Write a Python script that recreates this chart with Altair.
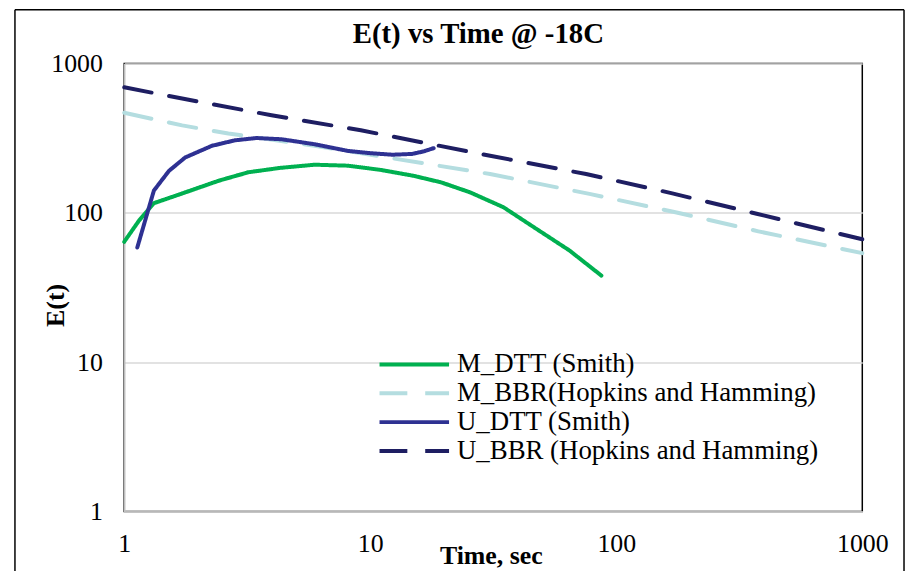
import altair as alt
import pandas as pd

series_names = [
    "M_DTT (Smith)",
    "M_BBR(Hopkins and Hamming)",
    "U_DTT (Smith)",
    "U_BBR (Hopkins and Hamming)",
]
series_colors = ["#00B050", "#B4DDE0", "#2E3192", "#1E1E62"]
series_dash = [[1, 0], [28, 18], [1, 0], [28, 18]]
series_width = [4, 4, 3, 4]

m_dtt_t = [1.0, 1.15, 1.32, 1.77, 2.42, 3.2, 4.3, 5.94, 8.09, 11.0, 15.0, 19.4, 25.5, 34.8, 47.4, 64.5, 87.0]
m_dtt_e = [64, 89, 116, 137, 164, 187, 200, 210, 207, 194, 177, 160, 137, 109, 78, 56, 38]

m_bbr_t = [1.0, 1.72, 2.65, 5.94, 12.9, 30.7, 77.8, 174, 378, 1000]
m_bbr_e = [468, 385, 340, 281, 229, 182, 134, 101, 75.2, 53.7]

u_dtt_t = [1.13, 1.32, 1.52, 1.77, 2.27, 2.82, 3.45, 4.36, 5.94, 8.09, 10.0, 12.3, 14.8, 16.5, 18.1]
u_dtt_e = [58.6, 141, 191, 235, 281, 306, 317, 311, 288, 260, 251, 245, 248, 258, 271]

u_bbr_t = [1.0, 1.72, 3.97, 9.16, 30.7, 75.4, 169, 372, 1000]
u_bbr_e = [693, 583, 450, 357, 241, 182, 135, 98.6, 66.5]

axis_ticks = [1, 10, 100, 1000]

rows = []
for name, ts, es in zip(series_names,
                        [m_dtt_t, m_bbr_t, u_dtt_t, u_bbr_t],
                        [m_dtt_e, m_bbr_e, u_dtt_e, u_bbr_e]):
    for i, (t, e) in enumerate(zip(ts, es)):
        rows.append({"series": name, "t": t, "e": e, "order": i})
df = pd.DataFrame(rows)

FONT = "Liberation Serif, Times New Roman, DejaVu Serif, serif"

legend = alt.Legend(
    title=None,
    orient="none",
    legendX=276,
    legendY=287,
    padding=0,
    labelFont=FONT,
    labelFontSize=27,
    labelColor="black",
    labelOffset=27,
    symbolType="M-2.5,0H2.5",
    symbolSize=784,
    rowPadding=-3.3,
    labelLimit=500,
)

lines = alt.Chart(df).mark_line(strokeCap="round", strokeJoin="round").encode(
    x=alt.X(
        "t:Q",
        scale=alt.Scale(type="log", domain=[1, 1000]),
        axis=alt.Axis(
            values=axis_ticks, format="d", grid=False, ticks=False, tickSize=0,
            labelFont=FONT, labelFontSize=26, labelColor="black", labelPadding=19,
            labelFlush=False,
            domainColor="#BFBFBF", domainWidth=1.5,
            title="Time, sec", titleFont=FONT, titleFontSize=26, titleFontWeight="bold",
            titleColor="black", titleBaseline="alphabetic", titleX=369, titleY=52,
        ),
    ),
    y=alt.Y(
        "e:Q",
        scale=alt.Scale(type="log", domain=[1, 1000]),
        axis=alt.Axis(
            values=axis_ticks, format="d", grid=True, gridColor="#D9D9D9", gridWidth=1.5,
            ticks=False, tickSize=0,
            labelFont=FONT, labelFontSize=26, labelColor="black", labelPadding=22,
            domainColor="#BFBFBF", domainWidth=1.5,
            title="E(t)", titleFont=FONT, titleFontSize=26, titleFontWeight="bold",
            titleColor="black", titleAngle=270, titleAlign="center", titleBaseline="middle",
            titleX=-69, titleY=243,
        ),
    ),
    color=alt.Color("series:N", scale=alt.Scale(domain=series_names, range=series_colors),
                    sort=series_names, legend=legend),
    strokeDash=alt.StrokeDash("series:N", scale=alt.Scale(domain=series_names, range=series_dash),
                              sort=series_names, legend=legend),
    strokeWidth=alt.StrokeWidth("series:N", scale=alt.Scale(domain=series_names, range=series_width),
                                sort=series_names, legend=legend),
    order="order:Q",
)

frame_df = pd.DataFrame({"k": [0]})
frame_left = alt.Chart(frame_df).mark_rule(color="black", strokeWidth=1.5).encode(
    x=alt.value(-110), y=alt.value(-54), y2=alt.value(520))
frame_top = alt.Chart(frame_df).mark_rule(color="black", strokeWidth=1.5).encode(
    x=alt.value(-110), x2=alt.value(785), y=alt.value(-54))
frame_right = alt.Chart(frame_df).mark_rule(color="black", strokeWidth=1.5).encode(
    x=alt.value(785), y=alt.value(-54), y2=alt.value(520))

chart = alt.layer(lines, frame_left, frame_top, frame_right).properties(
    width=743,
    height=451,
    autosize=alt.AutoSizeParams(type="none"),
    padding={"left": 117, "top": 54, "right": 44, "bottom": 58},
    title=alt.Title(
        "E(t) vs Time @ -18C", font=FONT, fontSize=29, fontWeight="bold", color="black",
        anchor="middle", frame="group", dx=-15, offset=0, baseline="alphabetic", dy=63,
    ),
).configure(
    background="white", font=FONT
).configure_view(
    stroke="black", strokeWidth=1.5
).configure_axis(
    labelFont=FONT, titleFont=FONT
).configure_legend(
    labelFont=FONT
).configure_title(
    font=FONT
)

chart.save("out.html", embed_options={"renderer": "svg", "actions": False})
